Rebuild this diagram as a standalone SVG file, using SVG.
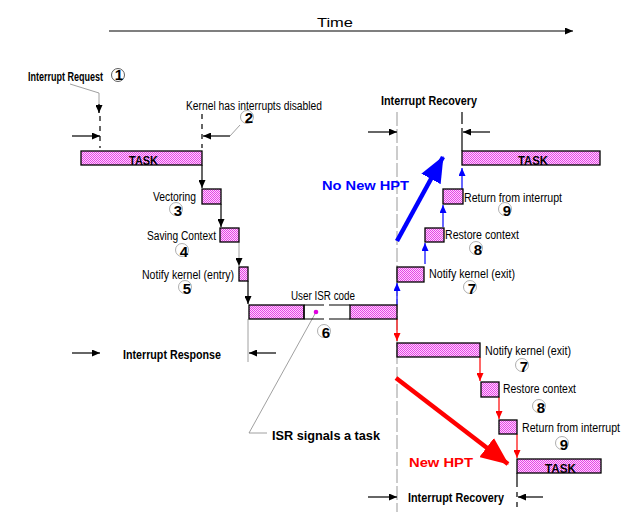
<svg xmlns="http://www.w3.org/2000/svg" width="631" height="512" viewBox="0 0 631 512">
<defs>
<pattern id="hatch" width="2" height="2" patternUnits="userSpaceOnUse">
<rect width="2" height="2" fill="#ffd0ff"/>
<rect width="1" height="1" fill="#e448e4"/>
<rect x="1" y="1" width="1" height="1" fill="#e448e4"/>
</pattern>
<marker id="ak" markerUnits="userSpaceOnUse" markerWidth="8" markerHeight="7" refX="8" refY="3.5" orient="auto"><path d="M0,0 L8,3.5 L0,7 z" fill="#000"/></marker>
<marker id="ab" markerUnits="userSpaceOnUse" markerWidth="8" markerHeight="7" refX="8" refY="3.5" orient="auto"><path d="M0,0 L8,3.5 L0,7 z" fill="#0000ff"/></marker>
<marker id="ar" markerUnits="userSpaceOnUse" markerWidth="8" markerHeight="7" refX="8" refY="3.5" orient="auto"><path d="M0,0 L8,3.5 L0,7 z" fill="#ff0000"/></marker>
<marker id="bigb" markerUnits="userSpaceOnUse" markerWidth="26" markerHeight="22" refX="25" refY="11" orient="auto"><path d="M0,0 L26,11 L0,22 z" fill="#0000ff"/></marker>
<marker id="bigr" markerUnits="userSpaceOnUse" markerWidth="28" markerHeight="24" refX="27" refY="12" orient="auto"><path d="M0,0 L28,12 L0,24 z" fill="#ff0000"/></marker>
</defs>
<style>
text{font-family:"Liberation Sans Narrow","Liberation Sans",Arial,sans-serif;fill:#000;font-size:12px}
.b{font-weight:bold}
.num{font-weight:bold;font-size:15px;text-anchor:middle}
.box{fill:url(#hatch);stroke:#000;stroke-width:1.3}
.k{stroke:#000;stroke-width:1.2;fill:none}
.kd{stroke:#000;stroke-width:1.2;fill:none;stroke-dasharray:5 5}
.g{stroke:#888;stroke-width:0.8;fill:none}
.gd{stroke:#999;stroke-width:1;fill:none;stroke-dasharray:14 3}
.blu{stroke:#0000ff;stroke-width:1.2;fill:none}
.red{stroke:#ff0000;stroke-width:1.2;fill:none}
.circ{fill:none;stroke:#999;stroke-width:0.8}
</style>

<g id="time-axis">
<text x="317" y="27" font-size="20" textLength="36" lengthAdjust="spacingAndGlyphs">Time</text>
<line x1="109" y1="31" x2="573" y2="31" class="k" marker-end="url(#ak)"/>
</g>

<g id="connectors">
<polyline points="70,84 99,93 99,113" class="g"/>
<line x1="99" y1="104" x2="99" y2="113" class="k" marker-end="url(#ak)"/>
<line x1="100" y1="116" x2="100" y2="148" class="kd"/>
<line x1="72" y1="136" x2="100" y2="136" class="k" marker-end="url(#ak)"/>
<line x1="202" y1="114" x2="202" y2="148" class="kd"/>
<line x1="230" y1="136" x2="203" y2="136" class="k" marker-end="url(#ak)"/>
<line x1="230" y1="136" x2="240" y2="125" class="g"/>
<line x1="202" y1="165" x2="202" y2="188" class="k" marker-end="url(#ak)"/>
<line x1="221" y1="204" x2="221" y2="227" class="k" marker-end="url(#ak)"/>
<line x1="239" y1="242" x2="239" y2="266" class="g" marker-end="url(#ak)"/>
<line x1="248" y1="281" x2="248" y2="304" class="k" marker-end="url(#ak)"/>
<line x1="248" y1="319" x2="248" y2="362" class="g"/>
<line x1="72" y1="353" x2="100" y2="353" class="k" marker-end="url(#ak)"/>
<line x1="276" y1="353" x2="249" y2="353" class="k" marker-end="url(#ak)"/>
<polyline points="316,312 249,433 267,433" class="g"/>
<line x1="397" y1="112" x2="397" y2="512" class="gd"/>
<line x1="368" y1="132" x2="397" y2="132" class="k" marker-end="url(#ak)"/>
<line x1="462" y1="112" x2="462" y2="124" class="k"/>
<line x1="462" y1="128" x2="462" y2="151" class="k"/>
<line x1="490" y1="132" x2="463" y2="132" class="k" marker-end="url(#ak)"/>
<line x1="397" y1="305" x2="397" y2="283" class="blu" marker-end="url(#ab)"/>
<line x1="425" y1="264" x2="425" y2="243" class="blu" marker-end="url(#ab)"/>
<line x1="443" y1="227" x2="443" y2="205" class="blu" marker-end="url(#ab)"/>
<line x1="462" y1="189" x2="462" y2="168" class="blu" marker-end="url(#ab)"/>
<line x1="397" y1="241" x2="443" y2="157" stroke="#0000ff" stroke-width="4.5" marker-end="url(#bigb)"/>
<line x1="397" y1="319" x2="397" y2="341" class="red" marker-end="url(#ar)"/>
<line x1="480" y1="357" x2="480" y2="381" class="red" marker-end="url(#ar)"/>
<line x1="499" y1="397" x2="499" y2="419" class="red" marker-end="url(#ar)"/>
<line x1="517" y1="434" x2="517" y2="458" class="red" marker-end="url(#ar)"/>
<line x1="396" y1="378" x2="508" y2="464" stroke="#ff0000" stroke-width="4.5" marker-end="url(#bigr)"/>
<line x1="517" y1="473" x2="517" y2="487" class="k"/>
<line x1="517" y1="492" x2="517" y2="512" class="kd"/>
<line x1="368" y1="497" x2="397" y2="497" class="k" marker-end="url(#ak)"/>
<line x1="543" y1="497" x2="518" y2="497" class="k" marker-end="url(#ak)"/>
</g>

<g id="interrupt-request">
<text x="28" y="81" class="b" font-size="11" textLength="75" lengthAdjust="spacingAndGlyphs">Interrupt Request</text>
<circle cx="118" cy="75" r="6.5" fill="none" stroke="#333" stroke-width="0.8"/>
<text x="119" y="80" class="num" font-size="13">1</text>
</g>

<g id="kernel-disabled">
<text x="186" y="110" textLength="136" lengthAdjust="spacingAndGlyphs">Kernel has interrupts disabled</text>
<circle cx="247" cy="117" r="6.5" class="circ"/>
<text x="249" y="123" class="num">2</text>
</g>

<g id="task-1">
<rect x="81" y="151" width="121" height="14" class="box"/>
<text x="129" y="165" class="b" font-size="14" textLength="29" lengthAdjust="spacingAndGlyphs">TASK</text>
</g>

<g id="vectoring">
<rect x="202" y="189" width="19" height="15" class="box"/>
<text x="153" y="201" textLength="43" lengthAdjust="spacingAndGlyphs">Vectoring</text>
<circle cx="176" cy="209" r="6.5" class="circ"/>
<text x="178" y="216" class="num">3</text>
</g>

<g id="saving-context">
<rect x="220" y="228" width="19" height="14" class="box"/>
<text x="147" y="240" textLength="69" lengthAdjust="spacingAndGlyphs">Saving Context</text>
<circle cx="182" cy="250" r="6.5" class="circ"/>
<text x="184" y="257" class="num">4</text>
</g>

<g id="notify-entry">
<rect x="239" y="267" width="9" height="14" class="box"/>
<text x="142" y="279" textLength="92" lengthAdjust="spacingAndGlyphs">Notify kernel (entry)</text>
<circle cx="185" cy="287" r="6.5" class="circ"/>
<text x="187" y="294" class="num">5</text>
</g>

<g id="user-isr">
<rect x="249" y="305" width="55" height="14" class="box"/>
<rect x="350" y="305" width="47" height="14" class="box"/>
<path d="M304,305 H324 M329,305 H350 M304,319 H324 M329,319 H350 M304,305 V319" class="k" stroke-width="1.3"/>
<circle cx="316" cy="312" r="2.3" fill="#e000e0"/>
<text x="291" y="300" textLength="64" lengthAdjust="spacingAndGlyphs">User ISR code</text>
<circle cx="324" cy="331" r="6.5" class="circ"/>
<text x="326" y="338" class="num">6</text>
</g>

<g id="interrupt-response">
<text x="123" y="359" class="b" textLength="98" lengthAdjust="spacingAndGlyphs">Interrupt Response</text>
</g>

<g id="isr-signals">
<text x="272" y="440" class="b" font-size="17" textLength="108" lengthAdjust="spacingAndGlyphs">ISR signals a task</text>
</g>

<g id="recovery-top">
<text x="381" y="105" class="b" textLength="96" lengthAdjust="spacingAndGlyphs">Interrupt Recovery</text>
</g>

<g id="task-2">
<rect x="462" y="151" width="138" height="14" class="box"/>
<text x="518" y="165" class="b" font-size="14" textLength="30" lengthAdjust="spacingAndGlyphs">TASK</text>
</g>

<g id="no-new-hpt">
<text x="322" y="190" class="b" font-size="20" style="fill:#0000ff" textLength="87" lengthAdjust="spacingAndGlyphs">No New HPT</text>
</g>

<g id="return-blue">
<rect x="443" y="189" width="20" height="15" class="box"/>
<text x="464" y="202" textLength="98" lengthAdjust="spacingAndGlyphs">Return from interrupt</text>
<circle cx="505" cy="209" r="6.5" class="circ"/>
<text x="507" y="216" class="num">9</text>
</g>

<g id="restore-blue">
<rect x="425" y="228" width="19" height="14" class="box"/>
<text x="445" y="239" textLength="74" lengthAdjust="spacingAndGlyphs">Restore context</text>
<circle cx="476" cy="248" r="6.5" class="circ"/>
<text x="478" y="255" class="num">8</text>
</g>

<g id="notify-exit-blue">
<rect x="397" y="267" width="27" height="15" class="box"/>
<text x="429" y="278" textLength="86" lengthAdjust="spacingAndGlyphs">Notify kernel (exit)</text>
<circle cx="470" cy="287" r="6.5" class="circ"/>
<text x="472" y="294" class="num">7</text>
</g>

<g id="notify-exit-red">
<rect x="397" y="343" width="83" height="14" class="box"/>
<text x="485" y="355" textLength="86" lengthAdjust="spacingAndGlyphs">Notify kernel (exit)</text>
<circle cx="522" cy="365" r="6.5" class="circ"/>
<text x="524" y="372" class="num">7</text>
</g>

<g id="restore-red">
<rect x="481" y="382" width="18" height="15" class="box"/>
<text x="503" y="393" textLength="73" lengthAdjust="spacingAndGlyphs">Restore context</text>
<circle cx="539" cy="406" r="6.5" class="circ"/>
<text x="541" y="413" class="num">8</text>
</g>

<g id="return-red">
<rect x="499" y="420" width="18" height="14" class="box"/>
<text x="522" y="432" font-size="11" textLength="98" lengthAdjust="spacingAndGlyphs">Return from interrupt</text>
<circle cx="562" cy="443" r="6.5" class="circ"/>
<text x="564" y="450" class="num">9</text>
</g>

<g id="new-hpt">
<text x="409" y="467" class="b" font-size="21" style="fill:#ff0000" textLength="64" lengthAdjust="spacingAndGlyphs">New HPT</text>
</g>

<g id="task-3">
<rect x="517" y="459" width="84" height="14" class="box"/>
<text x="545" y="473" class="b" font-size="14" textLength="31" lengthAdjust="spacingAndGlyphs">TASK</text>
</g>

<g id="recovery-bottom">
<text x="408" y="502" class="b" textLength="96" lengthAdjust="spacingAndGlyphs">Interrupt Recovery</text>
</g>
</svg>
